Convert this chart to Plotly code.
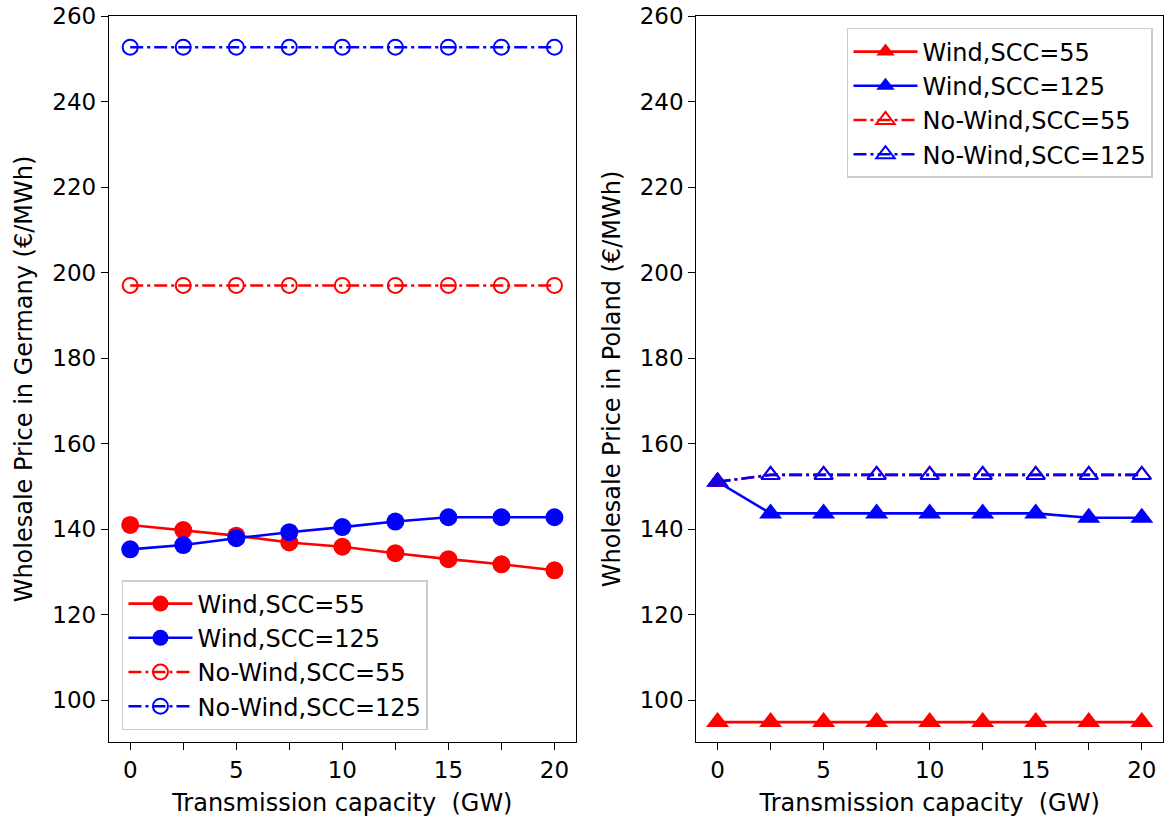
import plotly.graph_objects as go
from plotly.subplots import make_subplots

x_gw = [0, 2.5, 5, 7.5, 10, 12.5, 15, 17.5, 20]

# Germany
de_wind_55 = [141.0, 139.8, 138.5, 136.9, 135.9, 134.4, 133.0, 131.8, 130.4]
de_wind_125 = [135.3, 136.3, 137.9, 139.3, 140.5, 141.8, 142.8, 142.8, 142.8]
de_nowind_55 = [197.0] * 9
de_nowind_125 = [252.7] * 9

# Poland
pl_wind_55 = [94.9] * 9
pl_wind_125 = [151.1, 143.7, 143.7, 143.7, 143.7, 143.7, 143.7, 142.7, 142.7]
pl_nowind_55 = [151.1, 152.7, 152.7, 152.7, 152.7, 152.7, 152.7, 152.7, 152.7]
pl_nowind_125 = [151.1, 152.7, 152.7, 152.7, 152.7, 152.7, 152.7, 152.7, 152.7]

labels = ["Wind,SCC=55", "Wind,SCC=125", "No-Wind,SCC=55", "No-Wind,SCC=125"]
x_tickvals = x_gw
x_ticktext = ["0", "", "5", "", "10", "", "15", "", "20"]
y_tickvals = [100, 120, 140, 160, 180, 200, 220, 240, 260]

RED = "#ff0000"
BLUE = "#0000ff"
DASHDOT = "13px,4px,3px,4px"
FONT = "DejaVu Sans"

fig = make_subplots(rows=1, cols=2, horizontal_spacing=0.1145)

def add(y, name, color, symbol, size, dash, col, legend, mlw=0):
    fig.add_trace(go.Scatter(
        x=x_gw, y=y, name=name, mode="lines+markers",
        line=dict(color=color, width=2.6, dash=dash),
        marker=dict(color=color, symbol=symbol, size=size,
                    line=dict(color=color, width=mlw)),
        legend=legend,
    ), row=1, col=col)

add(de_wind_55, labels[0], RED, "circle", 18, "solid", 1, "legend")
add(de_wind_125, labels[1], BLUE, "circle", 18, "solid", 1, "legend")
add(de_nowind_55, labels[2], RED, "circle-open", 15, DASHDOT, 1, "legend", 2)
add(de_nowind_125, labels[3], BLUE, "circle-open", 15, DASHDOT, 1, "legend", 2)

add(pl_wind_55, labels[0], RED, "triangle-up", 20, "solid", 2, "legend2")
add(pl_wind_125, labels[1], BLUE, "triangle-up", 20, "solid", 2, "legend2")
add(pl_nowind_55, labels[2], RED, "triangle-up-open", 16, DASHDOT, 2, "legend2", 2)
add(pl_nowind_125, labels[3], BLUE, "triangle-up-open", 16, DASHDOT, 2, "legend2", 2)

axis_common = dict(showline=True, linecolor="black", linewidth=1.3, mirror=True,
                   ticks="outside", ticklen=7, tickwidth=1.3, tickcolor="black",
                   showgrid=False, zeroline=False,
                   tickfont=dict(family=FONT, size=23, color="black"))

for c, ylab in [(1, "Wholesale Price in Germany (€/MWh)"), (2, "Wholesale Price in Poland (€/MWh)")]:
    fig.update_xaxes(range=[-1, 21], tickvals=x_tickvals, ticktext=x_ticktext,
                     title=dict(text="Transmission capacity  (GW)", standoff=12,
                                font=dict(family=FONT, size=24, color="black")),
                     row=1, col=c, **axis_common)
    fig.update_yaxes(range=[90.25, 260], tickvals=y_tickvals,
                     title=dict(text=ylab, standoff=12,
                                font=dict(family=FONT, size=24, color="black")),
                     row=1, col=c, **axis_common)

legend_style = dict(font=dict(family=FONT, size=24, color="black"),
                    bgcolor="rgba(255,255,255,0.8)", bordercolor="#cccccc", borderwidth=1.5,
                    itemwidth=64, tracegroupgap=0)

fig.update_layout(
    width=1164, height=819,
    margin=dict(l=109, r=1, t=16, b=77),
    plot_bgcolor="white", paper_bgcolor="white",
    font=dict(family=FONT, color="black"),
    legend=dict(x=0.0123, y=0.0165, xanchor="left", yanchor="bottom", **legend_style),
    legend2=dict(x=0.9905, y=0.9835, xanchor="right", yanchor="top", **legend_style),
)

fig.write_html("out.html", config={"displayModeBar": False},
               post_script="document.body.style.margin='0px';document.body.style.overflow='hidden';")
